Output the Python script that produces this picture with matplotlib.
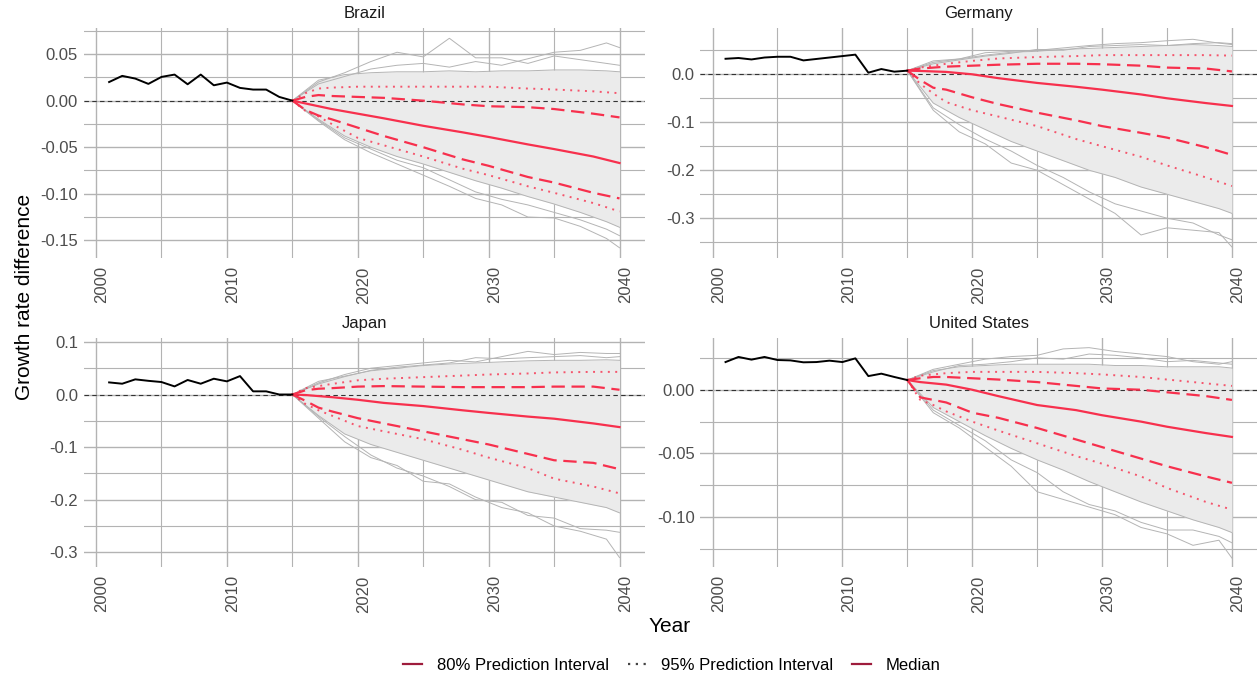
import matplotlib
matplotlib.use('Agg')
import matplotlib.pyplot as plt
from matplotlib.lines import Line2D
from matplotlib.ticker import FixedLocator, FormatStrFormatter
import matplotlib.transforms as mtrans

plt.rcParams['font.family'] = ['Liberation Sans', 'DejaVu Sans']
plt.rcParams['axes.unicode_minus'] = False

# ---------------- data ----------------
countries = ['Brazil', 'Germany', 'Japan', 'United States']

hist_years = [2001, 2002, 2003, 2004, 2005, 2006, 2007, 2008, 2009, 2010,
              2011, 2012, 2013, 2014, 2015]
hist_brazil = [0.020, 0.0266, 0.0237, 0.018, 0.0255, 0.028, 0.0176, 0.028, 0.0165, 0.0194,
               0.0137, 0.0119, 0.0119, 0.004, 0.0]
hist_germany = [0.0324, 0.034, 0.031, 0.035, 0.0366, 0.0366, 0.029, 0.032, 0.035, 0.038,
                0.041, 0.0034, 0.011, 0.0055, 0.0076]
hist_japan = [0.023, 0.0205, 0.0288, 0.026, 0.0237, 0.0154, 0.0276, 0.0205, 0.030, 0.025,
              0.035, 0.006, 0.006, 0.0, 0.0]
hist_us = [0.0217, 0.0257, 0.0236, 0.0257, 0.0233, 0.023, 0.0215, 0.0217, 0.0228, 0.0217,
           0.0246, 0.0107, 0.0126, 0.010, 0.0076]

pi_years = [2015, 2016, 2017, 2018, 2020, 2022, 2025, 2028, 2030, 2033, 2035, 2038, 2040]

median_brazil = [0, -0.003, -0.006, -0.009, -0.014, -0.019, -0.027, -0.034, -0.039, -0.047, -0.052, -0.060, -0.067]
hi80_brazil = [0, 0.004, 0.006, 0.005, 0.004, 0.003, 0.000, -0.004, -0.006, -0.007, -0.009, -0.014, -0.018]
lo80_brazil = [0, -0.010, -0.016, -0.020, -0.029, -0.038, -0.050, -0.063, -0.070, -0.082, -0.088, -0.099, -0.105]
hi95_brazil = [0, 0.008, 0.013, 0.014, 0.015, 0.015, 0.015, 0.015, 0.015, 0.013, 0.012, 0.010, 0.008]
lo95_brazil = [0, -0.011, -0.017, -0.025, -0.040, -0.048, -0.060, -0.073, -0.080, -0.092, -0.099, -0.110, -0.119]

median_germany = [0.0076, 0.007, 0.006, 0.005, 0.000, -0.008, -0.018, -0.026, -0.032, -0.042, -0.050, -0.060, -0.066]
hi80_germany = [0.0076, 0.012, 0.014, 0.016, 0.018, 0.020, 0.022, 0.022, 0.021, 0.018, 0.014, 0.012, 0.006]
lo80_germany = [0.0076, -0.012, -0.028, -0.032, -0.048, -0.062, -0.080, -0.096, -0.108, -0.122, -0.132, -0.152, -0.168]
hi95_germany = [0.0076, 0.014, 0.018, 0.022, 0.028, 0.033, 0.036, 0.038, 0.040, 0.040, 0.040, 0.040, 0.039]
lo95_germany = [0.0076, -0.020, -0.040, -0.058, -0.075, -0.088, -0.108, -0.135, -0.150, -0.172, -0.190, -0.215, -0.233]

median_japan = [0, -0.001, -0.003, -0.005, -0.010, -0.016, -0.022, -0.030, -0.035, -0.042, -0.046, -0.055, -0.062]
hi80_japan = [0, 0.008, 0.011, 0.012, 0.015, 0.016, 0.015, 0.014, 0.014, 0.014, 0.015, 0.015, 0.009]
lo80_japan = [0, -0.012, -0.025, -0.032, -0.045, -0.055, -0.070, -0.085, -0.095, -0.113, -0.125, -0.130, -0.142]
hi95_japan = [0, 0.012, 0.016, 0.020, 0.027, 0.030, 0.033, 0.036, 0.038, 0.040, 0.042, 0.043, 0.043]
lo95_japan = [0, -0.018, -0.030, -0.040, -0.060, -0.070, -0.085, -0.105, -0.120, -0.140, -0.160, -0.175, -0.188]

median_us = [0.0076, 0.006, 0.005, 0.004, 0.000, -0.005, -0.012, -0.016, -0.020, -0.025, -0.029, -0.034, -0.037]
hi80_us = [0.0076, 0.009, 0.010, 0.010, 0.009, 0.008, 0.006, 0.003, 0.001, 0.000, -0.002, -0.005, -0.008]
lo80_us = [0.0076, -0.006, -0.008, -0.010, -0.018, -0.022, -0.030, -0.039, -0.045, -0.054, -0.060, -0.068, -0.073]
hi95_us = [0.0076, 0.011, 0.012, 0.013, 0.014, 0.014, 0.014, 0.013, 0.012, 0.010, 0.008, 0.005, 0.003]
lo95_us = [0.0076, -0.008, -0.012, -0.017, -0.025, -0.032, -0.042, -0.052, -0.058, -0.068, -0.077, -0.088, -0.094]

sim_years = [2015, 2017, 2019, 2021, 2023, 2025, 2027, 2029, 2031, 2033, 2035, 2037, 2039, 2040]

band_hi_brazil = [0, 0.022, 0.028, 0.030, 0.031, 0.031, 0.032, 0.031, 0.032, 0.032, 0.033, 0.033, 0.032, 0.031]
band_lo_brazil = [0, -0.020, -0.038, -0.050, -0.060, -0.068, -0.077, -0.086, -0.094, -0.103, -0.111, -0.120, -0.130, -0.136]
up1_brazil = [0, 0.020, 0.030, 0.042, 0.052, 0.047, 0.067, 0.046, 0.046, 0.040, 0.048, 0.044, 0.040, 0.038]
up2_brazil = [0, 0.018, 0.026, 0.034, 0.038, 0.040, 0.036, 0.042, 0.038, 0.045, 0.052, 0.054, 0.062, 0.057]
low1_brazil = [0, -0.022, -0.042, -0.056, -0.068, -0.080, -0.092, -0.105, -0.112, -0.125, -0.126, -0.135, -0.148, -0.158]
low2_brazil = [0, -0.021, -0.040, -0.052, -0.064, -0.072, -0.085, -0.098, -0.106, -0.112, -0.120, -0.128, -0.138, -0.145]

band_hi_germany = [0.0076, 0.028, 0.032, 0.040, 0.046, 0.048, 0.052, 0.054, 0.056, 0.058, 0.060, 0.062, 0.060, 0.058]
band_lo_germany = [0.0076, -0.060, -0.090, -0.115, -0.140, -0.160, -0.180, -0.200, -0.215, -0.235, -0.250, -0.265, -0.280, -0.290]
up1_germany = [0.0076, 0.025, 0.032, 0.045, 0.048, 0.050, 0.055, 0.060, 0.064, 0.066, 0.070, 0.073, 0.065, 0.062]
up2_germany = [0.0076, 0.022, 0.030, 0.038, 0.044, 0.052, 0.050, 0.058, 0.060, 0.062, 0.060, 0.064, 0.066, 0.064]
low1_germany = [0.0076, -0.075, -0.120, -0.145, -0.185, -0.200, -0.230, -0.260, -0.290, -0.335, -0.320, -0.325, -0.330, -0.360]
low2_germany = [0.0076, -0.070, -0.105, -0.135, -0.160, -0.190, -0.215, -0.245, -0.270, -0.285, -0.300, -0.310, -0.335, -0.345]

band_hi_japan = [0, 0.025, 0.035, 0.045, 0.050, 0.055, 0.058, 0.060, 0.062, 0.064, 0.065, 0.065, 0.066, 0.065]
band_lo_japan = [0, -0.040, -0.075, -0.095, -0.110, -0.125, -0.140, -0.155, -0.170, -0.185, -0.195, -0.205, -0.215, -0.225]
up1_japan = [0, 0.022, 0.038, 0.050, 0.055, 0.060, 0.065, 0.062, 0.072, 0.082, 0.076, 0.080, 0.078, 0.078]
up2_japan = [0, 0.020, 0.034, 0.046, 0.052, 0.056, 0.060, 0.070, 0.068, 0.070, 0.072, 0.074, 0.070, 0.072]
low1_japan = [0, -0.045, -0.090, -0.120, -0.135, -0.165, -0.170, -0.195, -0.215, -0.225, -0.250, -0.260, -0.275, -0.310]
low2_japan = [0, -0.042, -0.080, -0.115, -0.140, -0.155, -0.175, -0.200, -0.205, -0.230, -0.235, -0.255, -0.258, -0.262]

band_hi_us = [0.0076, 0.015, 0.018, 0.019, 0.020, 0.020, 0.020, 0.020, 0.019, 0.019, 0.018, 0.018, 0.018, 0.017]
band_lo_us = [0.0076, -0.014, -0.025, -0.036, -0.046, -0.055, -0.063, -0.072, -0.080, -0.088, -0.095, -0.102, -0.108, -0.112]
up1_us = [0.0076, 0.016, 0.020, 0.024, 0.026, 0.027, 0.032, 0.033, 0.030, 0.028, 0.026, 0.022, 0.020, 0.022]
up2_us = [0.0076, 0.014, 0.019, 0.020, 0.022, 0.025, 0.024, 0.028, 0.027, 0.025, 0.022, 0.023, 0.021, 0.020]
low1_us = [0.0076, -0.018, -0.030, -0.045, -0.060, -0.080, -0.086, -0.092, -0.098, -0.108, -0.113, -0.122, -0.118, -0.132]
low2_us = [0.0076, -0.016, -0.028, -0.040, -0.055, -0.065, -0.080, -0.090, -0.095, -0.104, -0.110, -0.110, -0.115, -0.120]

x_major = [2000, 2010, 2020, 2030, 2040]
x_minor = [2005, 2015, 2025, 2035]

legend_labels = ['80% Prediction Interval', '95% Prediction Interval', 'Median']

# ---------------- per panel setup ----------------
panels = {
    'Brazil': dict(hist=hist_brazil, med=median_brazil, hi80=hi80_brazil, lo80=lo80_brazil,
                   hi95=hi95_brazil, lo95=lo95_brazil, bhi=band_hi_brazil, blo=band_lo_brazil,
                   paths=[up1_brazil, up2_brazil, low1_brazil, low2_brazil],
                   ylim=(-0.169, 0.078), major=[-0.15, -0.10, -0.05, 0.0, 0.05],
                   minor=[-0.125, -0.075, -0.025, 0.025, 0.075], fmt='%.2f',
                   rect=[0.06645, 0.6189, 0.4463, 0.3397]),
    'Germany': dict(hist=hist_germany, med=median_germany, hi80=hi80_germany, lo80=lo80_germany,
                    hi95=hi95_germany, lo95=lo95_germany, bhi=band_hi_germany, blo=band_lo_germany,
                    paths=[up1_germany, up2_germany, low1_germany, low2_germany],
                    ylim=(-0.383, 0.0965), major=[-0.3, -0.2, -0.1, 0.0],
                    minor=[-0.35, -0.25, -0.15, -0.05, 0.05], fmt='%.1f',
                    rect=[0.5566, 0.6189, 0.4428, 0.3397]),
    'Japan': dict(hist=hist_japan, med=median_japan, hi80=hi80_japan, lo80=lo80_japan,
                  hi95=hi95_japan, lo95=lo95_japan, bhi=band_hi_japan, blo=band_lo_japan,
                  paths=[up1_japan, up2_japan, low1_japan, low2_japan],
                  ylim=(-0.328, 0.108), major=[-0.3, -0.2, -0.1, 0.0, 0.1],
                  minor=[-0.25, -0.15, -0.05, 0.05], fmt='%.1f',
                  rect=[0.06645, 0.16248, 0.4463, 0.3387]),
    'United States': dict(hist=hist_us, med=median_us, hi80=hi80_us, lo80=lo80_us,
                          hi95=hi95_us, lo95=lo95_us, bhi=band_hi_us, blo=band_lo_us,
                          paths=[up1_us, up2_us, low1_us, low2_us],
                          ylim=(-0.139, 0.0408), major=[-0.10, -0.05, 0.0],
                          minor=[-0.125, -0.075, -0.025, 0.025], fmt='%.2f',
                          rect=[0.5566, 0.16248, 0.4428, 0.3387]),
}

RED = '#F7304D'
GRID = '#b3b3b3'
SIM = '#b4b4b4'
BAND = '#ebebeb'

fig = plt.figure(figsize=(12.58, 6.77), dpi=100)

for name in countries:
    p = panels[name]
    ax = fig.add_axes(p['rect'])
    ax.set_xlim(1999.05, 2041.95)
    ax.set_ylim(*p['ylim'])
    for s in ax.spines.values():
        s.set_visible(False)
    ax.xaxis.set_major_locator(FixedLocator(x_major))
    ax.xaxis.set_minor_locator(FixedLocator(x_minor))
    ax.yaxis.set_major_locator(FixedLocator(p['major']))
    ax.yaxis.set_minor_locator(FixedLocator(p['minor']))
    ax.yaxis.set_major_formatter(FormatStrFormatter(p['fmt']))
    ax.grid(which='major', color=GRID, lw=1.0, zorder=0)
    ax.grid(which='minor', color=GRID, lw=0.8, zorder=0)
    ax.set_axisbelow(True)
    ax.tick_params(which='both', length=0, labelsize=12, labelcolor='#4d4d4d')
    ax.tick_params(axis='y', pad=4)
    ax.tick_params(axis='x', pad=6, labelrotation=90)
    offset = mtrans.ScaledTranslation(6 / 100, 0, fig.dpi_scale_trans)
    for lab in ax.get_xticklabels():
        lab.set_transform(lab.get_transform() + offset)

    # simulation band and outer paths
    ax.fill_between(sim_years, p['blo'], p['bhi'], color=BAND, lw=0, zorder=1)
    ax.plot(sim_years, p['bhi'], color=SIM, lw=0.7, zorder=2)
    ax.plot(sim_years, p['blo'], color=SIM, lw=0.7, zorder=2)
    for path in p['paths']:
        ax.plot(sim_years, path, color=SIM, lw=0.7, zorder=2)

    # zero reference
    ax.axhline(0, color='#333333', lw=0.8, ls=(0, (4, 3)), zorder=3)

    # intervals and median
    ax.plot(pi_years, p['hi95'], color=RED, lw=1.4, ls=(0, (1, 2.8)), alpha=0.8, zorder=4)
    ax.plot(pi_years, p['lo95'], color=RED, lw=1.4, ls=(0, (1, 2.8)), alpha=0.8, zorder=4)
    ax.plot(pi_years, p['hi80'], color=RED, lw=1.6, ls=(0, (6, 3)), zorder=4)
    ax.plot(pi_years, p['lo80'], color=RED, lw=1.6, ls=(0, (6, 3)), zorder=4)
    ax.plot(pi_years, p['med'], color=RED, lw=1.6, zorder=5)

    # history
    ax.plot(hist_years, p['hist'], color='black', lw=1.4, zorder=6)

    r = p['rect']
    fig.text(r[0] + r[2] / 2, r[1] + r[3] + 0.021, name, ha='center', va='center',
             fontsize=12, color='#1a1a1a')

fig.text(25 / 1258, 1 - 297 / 677, 'Growth rate difference', rotation=90,
         ha='center', va='center', fontsize=15, color='black')
fig.text(670 / 1258, 1 - 626 / 677, 'Year', ha='center', va='center',
         fontsize=15, color='black')

handles = [Line2D([], [], color='#9E1C3C', lw=1.6),
           Line2D([], [], color='#444444', lw=1.6, ls=(0, (1, 2.5))),
           Line2D([], [], color='#9E1C3C', lw=1.6)]
fig.legend(handles, legend_labels, loc='center', ncol=3,
           bbox_to_anchor=(672 / 1258, 1 - 665 / 677), frameon=False,
           fontsize=12, handlelength=1.1, handletextpad=0.9, columnspacing=1.15)

fig.savefig('out.png', dpi=100)
